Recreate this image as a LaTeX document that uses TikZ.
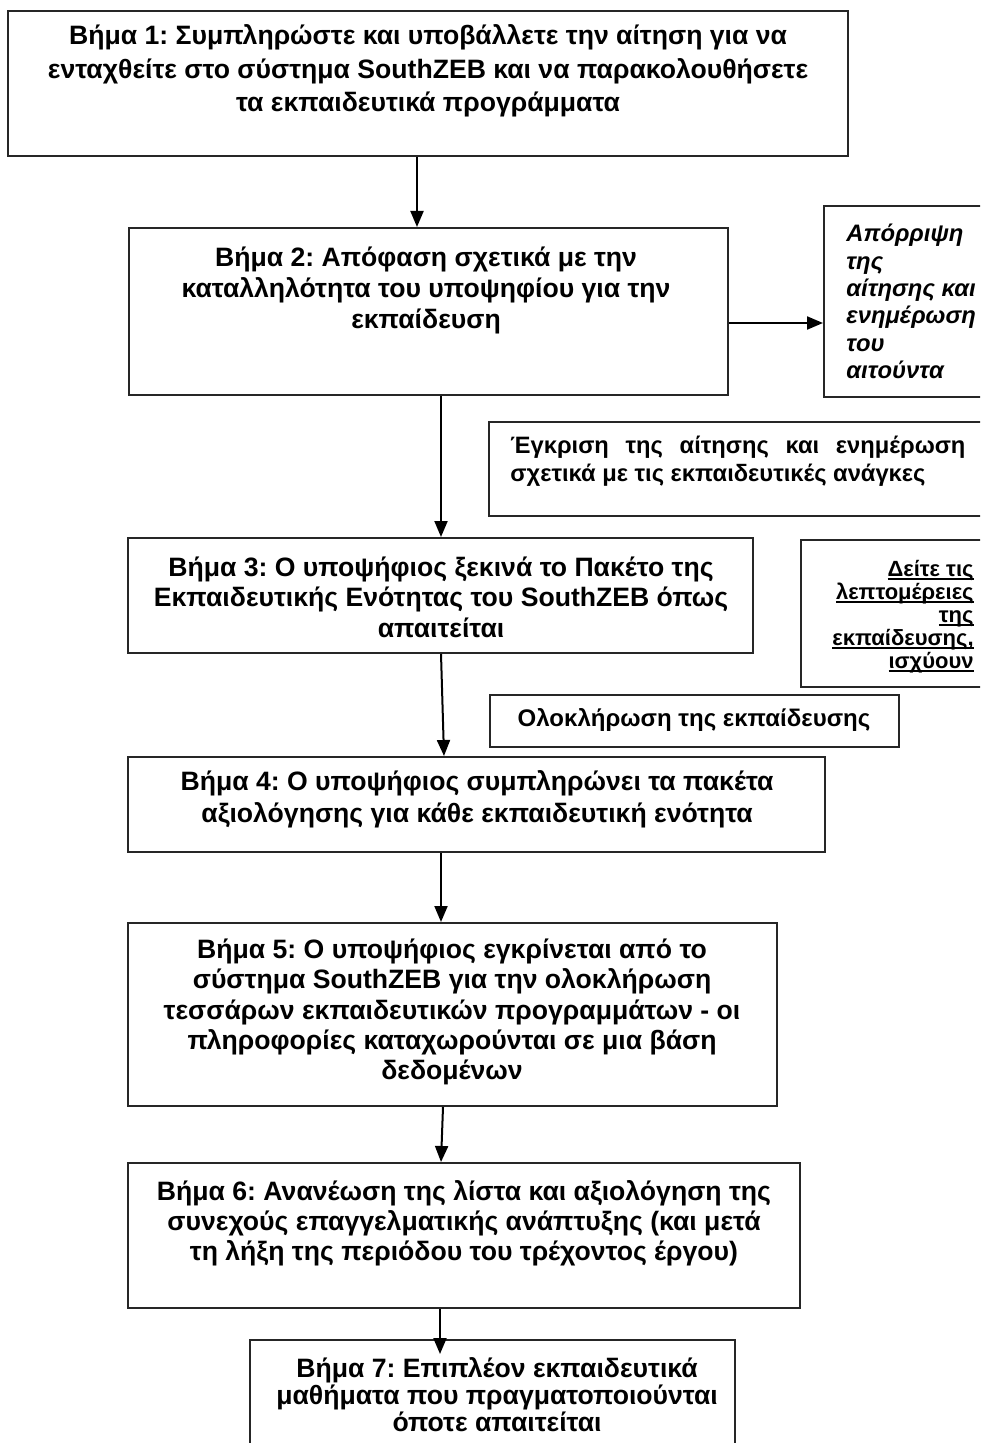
\documentclass[tikz,border=0pt]{standalone}
\usepackage{fontspec}
\setmainfont{Liberation Sans}
\usetikzlibrary{arrows.meta,fit}
\frenchspacing
\newcommand\myul[1]{\setbox0\hbox{#1}\rlap{\rule[-1.5pt]{\wd0}{0.9pt}}\box0}
\begin{document}
\begin{tikzpicture}[x=0.5pt,y=-0.5pt,
  frame/.style={draw=black!85, line width=1pt, inner sep=0pt, rectangle},
  txt/.style={inner sep=0pt, align=center, text=black},
  arr/.style={draw=black, line width=1pt, -{Triangle[length=8pt,width=6.5pt]}}]
\useasboundingbox (0,0) rectangle (980,1443);
\clip (0,0) rectangle (980,1443);
% frames
\node[frame, fit={(8,11) (848,156)}] (b1) {};
\node[frame, fit={(129,228) (728,395)}] (b2) {};
\node[frame, fit={(824,206) (1010,397)}] (rej) {};
\node[frame, fit={(489,422) (1010,516)}] (appr) {};
\node[frame, fit={(128,538) (753,653)}] (b3) {};
\node[frame, fit={(801,540) (1010,687)}] (det) {};
\node[frame, fit={(490,695) (899,747)}] (done) {};
\node[frame, fit={(128,757) (825,852)}] (b4) {};
\node[frame, fit={(128,923) (777,1106)}] (b5) {};
\node[frame, fit={(128,1163) (800,1308)}] (b6) {};
\node[frame, fit={(250,1340) (735,1470)}] (b7) {};
% texts
\node[txt, font={\fontsize{13.3pt}{16.75pt}\selectfont\bfseries}] (t1) at (428,71)
  {Βήμα 1: Συμπληρώστε και υποβάλλετε την αίτηση για να\\ενταχθείτε στο σύστημα SouthZEB και να παρακολουθήσετε\\τα εκπαιδευτικά προγράμματα};
\node[txt, font={\fontsize{13.3pt}{15.5pt}\selectfont\bfseries}] (t2) at (426,290)
  {Βήμα 2: Απόφαση σχετικά με την\\καταλληλότητα του υποψηφίου για την\\εκπαίδευση};
\node[txt, align=left, anchor=west, font={\fontsize{11.9pt}{13.7pt}\selectfont\bfseries\itshape}] (trej) at (846,301.5)
  {Απόρριψη\\της\\αίτησης και\\ενημέρωση\\του\\αιτούντα};
\node[txt, align=left, anchor=west, font={\fontsize{11.85pt}{14pt}\selectfont\bfseries}] (tappr) at (510,461)
  {\hbox to 227.5pt{Έγκριση\hfill της\hfill αίτησης\hfill και\hfill ενημέρωση}\\σχετικά με τις εκπαιδευτικές ανάγκες};
\node[txt, font={\fontsize{13.3pt}{15.25pt}\selectfont\bfseries}] (t3) at (441,597)
  {Βήμα 3: Ο υποψήφιος ξεκινά το Πακέτο της\\Εκπαιδευτικής Ενότητας του SouthZEB όπως\\απαιτείται};
\node[txt, align=right, anchor=east, font={\fontsize{11pt}{11.5pt}\selectfont\bfseries}] (tdet) at (974,617)
  {\myul{Δείτε τις}\\\myul{λεπτομέρειες}\\\myul{της}\\\myul{εκπαίδευσης,}\\\myul{ισχύουν}};
\node[txt, font={\fontsize{12pt}{14pt}\selectfont\bfseries}] (tdone) at (694,720)
  {Ολοκλήρωση της εκπαίδευσης};
\node[txt, font={\fontsize{13.3pt}{16pt}\selectfont\bfseries}] (t4) at (477,799)
  {Βήμα 4: Ο υποψήφιος συμπληρώνει τα πακέτα\\αξιολόγησης για κάθε εκπαιδευτική ενότητα};
\node[txt, font={\fontsize{13.3pt}{15.1pt}\selectfont\bfseries}] (t5) at (452,1012)
  {Βήμα 5: Ο υποψήφιος εγκρίνεται από το\\σύστημα SouthZEB για την ολοκλήρωση\\τεσσάρων εκπαιδευτικών προγραμμάτων - οι\\πληροφορίες καταχωρούνται σε μια βάση\\δεδομένων};
\node[txt, font={\fontsize{13.3pt}{15pt}\selectfont\bfseries}] (t6) at (464,1223)
  {Βήμα 6: Ανανέωση της λίστα και αξιολόγηση της\\συνεχούς επαγγελματικής ανάπτυξης (και μετά\\τη λήξη της περιόδου του τρέχοντος έργου)};
\node[txt, font={\fontsize{13.3pt}{13.5pt}\selectfont\bfseries}] (t7) at (497,1395)
  {Βήμα 7: Επιπλέον εκπαιδευτικά\\μαθήματα που πραγματοποιούνται\\όποτε απαιτείται};
% connectors
\draw[arr] (b1.south -| 417,0) -- (b2.north -| 417,0);
\draw[arr] (b2.east |- 0,323) -- (rej.west |- 0,323);
\draw[arr] (b2.south -| 441,0) -- (b3.north -| 441,0);
\draw[arr] (b3.south -| 441,0) -- (b4.north -| 444,0);
\draw[arr] (b4.south -| 441,0) -- (b5.north -| 441,0);
\draw[arr] (b5.south -| 443,0) -- (b6.north -| 441,0);
\coordinate (a7) at (440,1354);
\draw[arr] (b6.south -| 440,0) -- (a7);
\end{tikzpicture}
\end{document}
